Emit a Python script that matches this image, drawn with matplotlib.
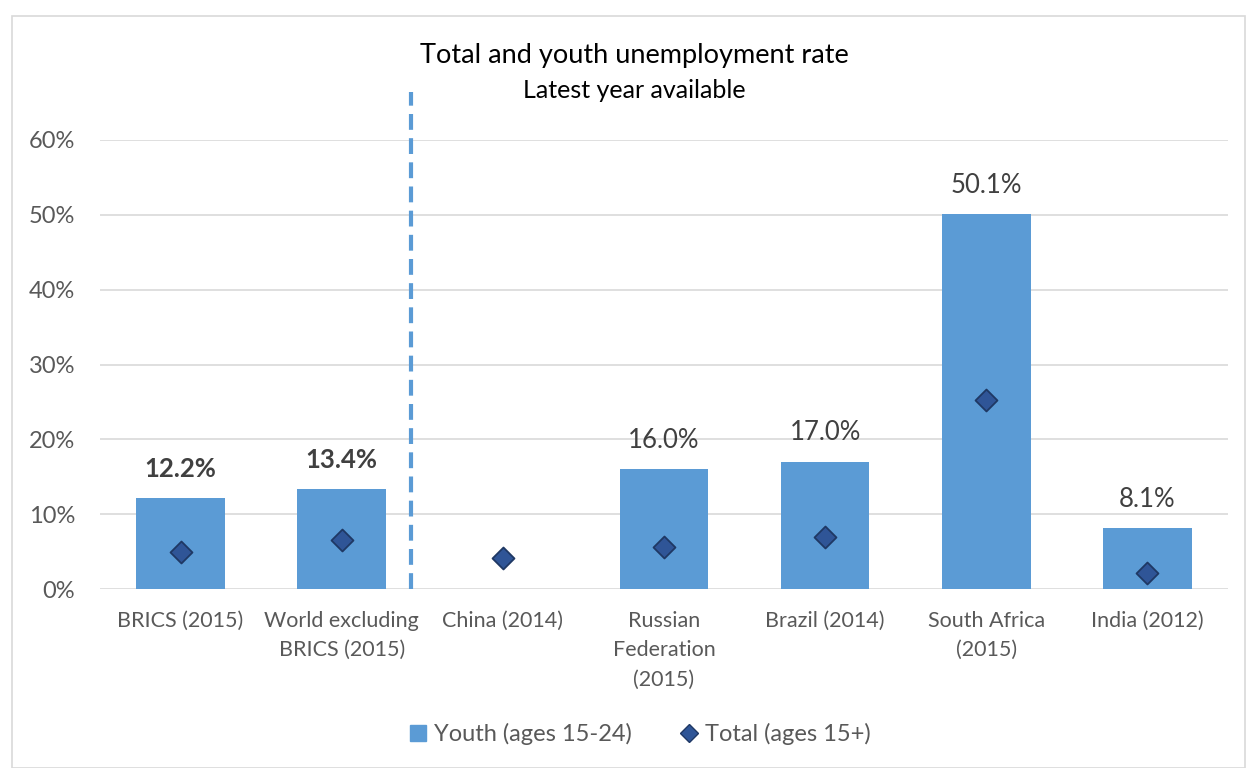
import numpy as np
import matplotlib.pyplot as plt
from matplotlib.patches import Rectangle
from matplotlib.lines import Line2D

plt.rcParams['font.family'] = ['Lato', 'DejaVu Sans']

categories = ['BRICS (2015)', 'World excluding\nBRICS (2015)', 'China (2014)',
              'Russian\nFederation\n(2015)', 'Brazil (2014)', 'South Africa\n(2015)',
              'India (2012)']
youth = [12.2, 13.4, np.nan, 16.0, 17.0, 50.1, 8.1]
total = [4.9, 6.5, 4.1, 5.6, 6.9, 25.2, 2.1]
bold_labels = [True, True, False, False, False, False, False]
yticks = [0, 10, 20, 30, 40, 50, 60]

bar_color = '#5B9BD5'
dia_color = '#2F5597'
dia_edge = '#1F3864'

fig = plt.figure(figsize=(12.49, 7.68), dpi=100)
fig.patches.append(Rectangle((12 / 1249, 0), 1 - 16 / 1249, 1 - 16 / 768,
                             transform=fig.transFigure, fill=False,
                             edgecolor='#D9D9D9', linewidth=1.2))
ax = fig.add_axes([100 / 1249, 1 - 589 / 768, 1128 / 1249, 449 / 768])

x = np.arange(len(categories))
ax.bar(x, youth, width=0.55, color=bar_color, zorder=2)
ax.scatter(x, total, marker='D', s=125, color=dia_color, edgecolor=dia_edge,
           linewidth=1.3, zorder=3)

for xi, v, b in zip(x, youth, bold_labels):
    if np.isnan(v):
        continue
    ax.text(xi, v + 2.2, f'{v:.1f}%', ha='center', va='bottom', fontsize=18.5,
            color='#404040', fontweight='bold' if b else 'normal')

ax.plot([1.43, 1.43], [0, 66.4], linestyle=(0, (3.8, 2.0)), color=bar_color,
        linewidth=3, clip_on=False, zorder=4)

ax.set_xlim(-0.5, len(categories) - 0.5)
ax.set_ylim(0, 60)
ax.set_yticks(yticks)
ax.set_yticklabels([f'{t}%' for t in yticks])
ax.set_xticks(x)
ax.set_xticklabels(categories, linespacing=1.57)
ax.tick_params(axis='both', length=0, labelcolor='#595959')
ax.tick_params(axis='y', pad=18, labelsize=17)
ax.tick_params(axis='x', pad=16, labelsize=15.5)
ax.grid(axis='y', color='#D9D9D9', linewidth=1.2, zorder=0)
ax.set_axisbelow(True)
for s in ax.spines.values():
    s.set_visible(False)

fig.text(0.508, 1 - 55 / 768, 'Total and youth unemployment rate', ha='center',
         va='center', fontsize=19.5, color='#000000')
fig.text(0.508, 1 - 90 / 768, 'Latest year available', ha='center',
         va='center', fontsize=18, color='#000000')

handles = [Line2D([], [], linestyle='none', marker='s', markersize=11,
                  color=bar_color),
           Line2D([], [], linestyle='none', marker='D', markersize=9,
                  color=dia_color, markeredgecolor=dia_edge)]
fig.legend(handles, ['Youth (ages 15-24)', 'Total (ages 15+)'], loc='center',
           bbox_to_anchor=(0.512, 1 - 734 / 768), ncol=2, frameon=False,
           fontsize=17, labelcolor='#595959', handlelength=0.8,
           handletextpad=0.3, columnspacing=2.0)

fig.savefig('out.png', dpi=100)
